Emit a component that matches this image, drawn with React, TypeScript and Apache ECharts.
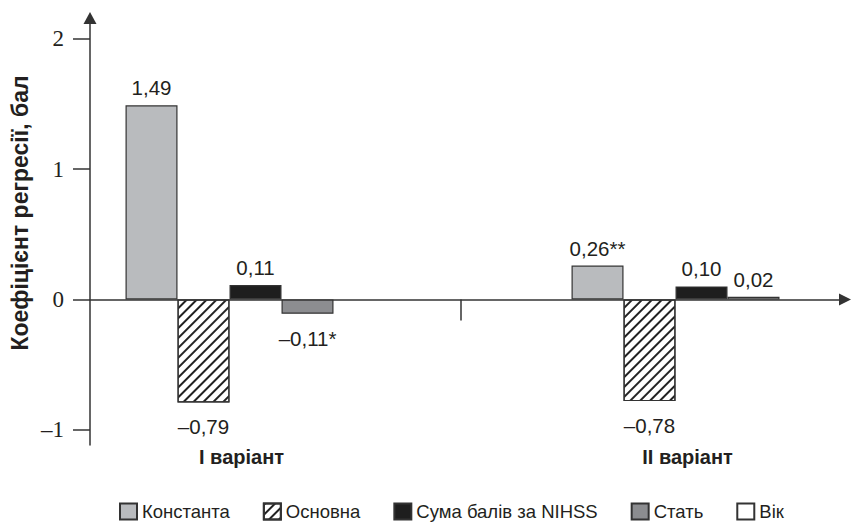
import React, { useEffect, useRef } from "react";
import * as echarts from "echarts";

const groups = ["I варіант", "II варіант"];
const seriesNames = ["Константа", "Основна", "Сума балів за NIHSS", "Стать", "Вік"];
const konstanta: (number | null)[] = [1.49, 0.26];
const osnovna: (number | null)[] = [-0.79, -0.78];
const sumaNihss: (number | null)[] = [0.11, 0.1];
const stat: (number | null)[] = [-0.11, null];
const vik: (number | null)[] = [null, 0.02];
const konstantaMarks = ["", "**"];
const statMarks = ["*", ""];
const noMarks = ["", ""];
const yTicks = [-1, 0, 1, 2];
const groupSeparator = [1.518];
const yTitle = "Коефіцієнт регресії, бал";

const TEXT = "#231f20";
const LINE = "#333333";

function fmt(v: number): string {
  const s = Math.abs(v).toFixed(2).replace(".", ",");
  return (v < 0 ? "–" : "") + s;
}

function makeSeries(
  name: string,
  values: (number | null)[],
  marks: string[],
  itemStyle: any,
  stack?: string
) {
  return {
    name,
    type: "bar",
    stack,
    barWidth: 52,
    barGap: "0%",
    itemStyle,
    data: values.map((v, i) => ({
      value: [i + 1, v],
      label:
        v == null
          ? { show: false }
          : {
              show: true,
              position: v < 0 ? "bottom" : "top",
              distance: v < 0 ? 14 : 7,
              formatter: () => fmt(v) + marks[i],
            },
    })),
    label: {
      color: TEXT,
      fontSize: 20.5,
      fontFamily: "Liberation Sans",
    },
  };
}

export default function App() {
  const ref = useRef<HTMLDivElement>(null);
  useEffect(() => {
    if (!ref.current) return;
    const chart = echarts.init(ref.current, undefined, { renderer: "svg" });
    const border = { borderColor: LINE, borderWidth: 1.2 };
    const option: any = {
      animation: false,
      backgroundColor: "#ffffff",
      grid: { left: 90, right: 6, top: 18, bottom: 79, containLabel: false },
      legend: {
        data: seriesNames,
        left: 119,
        top: 502,
        padding: 0,
        icon: "rect",
        itemWidth: 17,
        itemHeight: 16,
        itemGap: 33,
        itemTextGap: 10,
        textStyle: { fontSize: 18.5, fontFamily: "Liberation Sans", color: TEXT },
      },
      xAxis: [
        {
          type: "value",
          position: "top",
          min: 0.6872,
          max: 2.38,
          axisLine: {
            show: true,
            onZero: true,
            symbol: ["none", "triangle"],
            symbolSize: [12, 12],
            lineStyle: { color: LINE, width: 1.5 },
          },
          axisTick: {
            show: true,
            inside: true,
            customValues: groupSeparator,
            length: 21,
            lineStyle: { color: LINE, width: 1.5 },
          },
          axisLabel: { show: false },
          splitLine: { show: false },
        },
        {
          type: "value",
          position: "bottom",
          min: 0.6872,
          max: 2.38,
          axisLine: { show: false, onZero: false },
          axisTick: { show: false },
          splitLine: { show: false },
          axisLabel: {
            show: true,
            customValues: groups.map((_, i) => i + 1),
            formatter: (v: number) => groups[Math.round(v) - 1] || "",
            fontSize: 20,
            fontWeight: "bold",
            fontFamily: "Liberation Sans",
            color: TEXT,
            margin: 2,
            padding: [0, 0, 0, 24],
          },
        },
      ],
      yAxis: {
        type: "value",
        min: -1.117,
        max: 2.16,
        axisLine: {
          show: true,
          onZero: false,
          symbol: ["none", "triangle"],
          symbolSize: [13, 12],
          lineStyle: { color: LINE, width: 1.5 },
        },
        axisTick: {
          show: true,
          customValues: yTicks,
          length: 17,
          lineStyle: { color: LINE, width: 1.5 },
        },
        axisLabel: {
          customValues: yTicks,
          formatter: (v: number) => (v < 0 ? "–" + Math.abs(v) : String(v)),
          fontSize: 23,
          fontFamily: "Liberation Sans Narrow",
          color: TEXT,
          margin: 26,
          padding: [5, 0, 0, 0],
        },
        splitLine: { show: false },
      },
      graphic: [
        {
          type: "text",
          x: 20,
          y: 213,
          rotation: Math.PI / 2,
          style: {
            text: yTitle,
            font: 'bold 23px "Liberation Sans"',
            fill: TEXT,
            align: "center",
            verticalAlign: "middle",
          },
        },
      ],
      series: [
        makeSeries(seriesNames[0], konstanta, konstantaMarks, { color: "#b9bbbe", ...border }),
        makeSeries(seriesNames[1], osnovna, noMarks, {
          color: "#ffffff",
          ...border,
          decal: {
            symbol: "rect",
            symbolSize: 1,
            color: "#222222",
            backgroundColor: "#ffffff",
            dashArrayX: [1, 0],
            dashArrayY: [1.1, 4.6],
            rotation: -Math.PI / 4,
          },
        }),
        makeSeries(seriesNames[2], sumaNihss, noMarks, { color: "#1e1e1e", ...border }),
        makeSeries(seriesNames[3], stat, statMarks, { color: "#8c8d90", ...border }, "last"),
        makeSeries(seriesNames[4], vik, noMarks, { color: "#ffffff", ...border }, "last"),
      ],
    };
    chart.setOption(option);
    return () => chart.dispose();
  }, []);
  return <div ref={ref} style={{ width: 851, height: 524, position: "absolute", left: 0, top: 0 }} />;
}
